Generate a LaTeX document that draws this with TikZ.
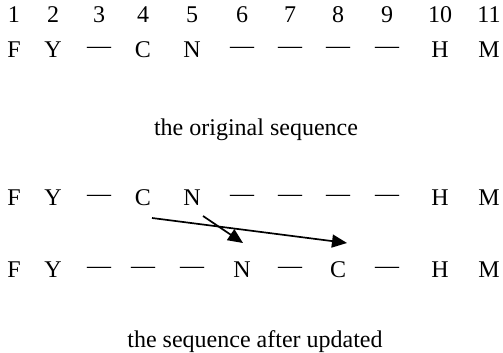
\documentclass[tikz,border=0pt]{standalone}
\usepackage{fontspec}
\setmainfont{Liberation Serif}
\usetikzlibrary{arrows.meta}
\begin{document}
\begin{tikzpicture}[x=1pt,y=-1pt,
  cell/.style={inner sep=0pt, font=\fontsize{24}{28}\selectfont},
  captext/.style={inner sep=0pt, font=\fontsize{24}{28}\selectfont},
  mv/.style={line width=1.7pt, -{Triangle[length=15pt,width=13pt]}}]
\useasboundingbox (0,0) rectangle (503,353);
% column positions
\def\cxa{14}\def\cxb{53}\def\cxc{99}\def\cxd{143}\def\cxe{192}
\def\cxf{242}\def\cxg{290}\def\cxh{338}\def\cxi{387}\def\cxj{440}\def\cxk{489}
% numbers
\foreach \n/\x in {1/\cxa,2/\cxb,3/\cxc,4/\cxd,5/\cxe,6/\cxf,7/\cxg,8/\cxh,9/\cxi,10/\cxj,11/\cxk}
  \node[cell] (num\n) at (\x,15) {\n};
% original sequence
\foreach \n/\x/\t in {1/\cxa/F,2/\cxb/Y,3/\cxc/---,4/\cxd/C,5/\cxe/N,6/\cxf/---,7/\cxg/---,8/\cxh/---,9/\cxi/---,10/\cxj/H,11/\cxk/M}
  \node[cell] (o\n) at (\x,50) {\t};
\node[captext] (cap1) at (256,130) {the original sequence};
% before row
\foreach \n/\x/\t in {1/\cxa/F,2/\cxb/Y,3/\cxc/---,4/\cxd/C,5/\cxe/N,6/\cxf/---,7/\cxg/---,8/\cxh/---,9/\cxi/---,10/\cxj/H,11/\cxk/M}
  \node[cell] (b\n) at (\x,198) {\t};
% after row
\foreach \n/\x/\t in {1/\cxa/F,2/\cxb/Y,3/\cxc/---,4/\cxd/---,5/\cxe/---,6/\cxf/N,7/\cxg/---,8/\cxh/C,9/\cxi/---,10/\cxj/H,11/\cxk/M}
  \node[cell] (a\n) at (\x,270) {\t};
\node[captext] (cap2) at (255,342) {the sequence after updated};
% arrows
\coordinate (sC) at (152,218);
\coordinate (sN) at (203,216);
\coordinate (eC) at (347,243);
\coordinate (eN) at (243,243);
\draw[mv] (sC) -- (eC);
\draw[mv] (sN) -- (eN);
\end{tikzpicture}
\end{document}
